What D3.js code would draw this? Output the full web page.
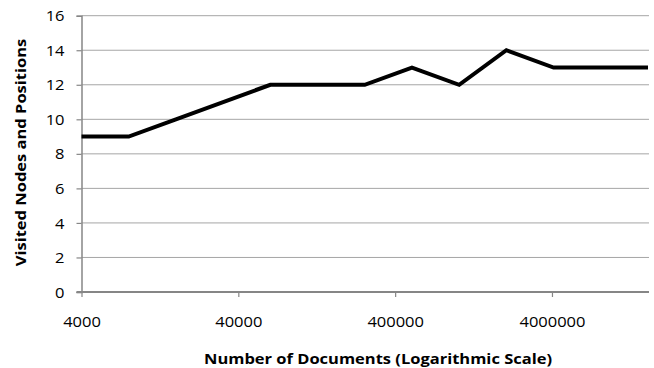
<!DOCTYPE html>
<html>
<head>
<meta charset="utf-8">
<script src="https://cdn.jsdelivr.net/npm/d3@7"></script>
<style>
  html, body { margin: 0; padding: 0; background: #fff; }
  svg { display: block; }
  text { font-family: "Open Sans", sans-serif; fill: #000; }
  .wide { transform-box: fill-box; transform-origin: center; transform: scaleX(1.1); }
  .wide-right { transform-box: fill-box; transform-origin: right center; transform: scaleX(1.1); }
</style>
</head>
<body>
<svg id="chart" width="654" height="368"></svg>
<script>
// Collection sizes (doubling from 4000) and visited node/position counts
const documents = [4000, 8000, 16000, 32000, 64000, 128000, 256000, 512000,
                   1024000, 2048000, 4096000, 8192000, 16384000];
const visited = [9, 9, 10, 11, 12, 12, 12, 13, 12, 14, 13, 13, 13];
const xTickValues = [4000, 40000, 400000, 4000000];
const yTickValues = [0, 2, 4, 6, 8, 10, 12, 14, 16];
const xTitle = "Number of Documents (Logarithmic Scale)";
const yTitle = "Visited Nodes and Positions";

const svg = d3.select("#chart");
const margin = { left: 81.5, right: 6, top: 15.7, bottom: 76 };
const W = 654, H = 368;
const FONT = "'Open Sans', sans-serif";

const x = d3.scaleLog()
  .domain([documents[0], documents[documents.length - 1]])
  .range([margin.left, 648]);
const y = d3.scaleLinear()
  .domain([0, 16])
  .range([H - margin.bottom, margin.top]);

// horizontal gridlines
svg.append("g")
  .selectAll("line")
  .data(yTickValues.filter(v => v > 0))
  .join("line")
  .attr("x1", margin.left).attr("x2", 649)
  .attr("y1", d => y(d)).attr("y2", d => y(d))
  .attr("stroke", "#a6a6a6").attr("stroke-width", 1);

// y axis
const yAxis = svg.append("g")
  .attr("transform", `translate(${margin.left},0)`)
  .call(d3.axisLeft(y).tickValues(yTickValues).tickSize(5).tickPadding(12).tickFormat(d3.format("d")));
yAxis.select(".domain").attr("stroke", "#868686").attr("stroke-width", 1.5);
yAxis.selectAll(".tick line").attr("stroke", "#868686").attr("stroke-width", 1.2);
yAxis.selectAll("text")
  .attr("class", "wide-right")
  .attr("font-size", 15).attr("font-family", FONT).attr("fill", "#000").attr("dy", "0.34em");

// x axis
const xAxis = svg.append("g")
  .attr("transform", `translate(0,${y(0)})`)
  .call(d3.axisBottom(x).tickValues(xTickValues).tickSize(5).tickPadding(19.5).tickFormat(d3.format("d")));
xAxis.select(".domain").remove();
xAxis.append("line")
  .attr("x1", margin.left - 5).attr("x2", 649)
  .attr("stroke", "#868686").attr("stroke-width", 2);
xAxis.selectAll(".tick line").attr("stroke", "#868686").attr("stroke-width", 1.2);
xAxis.selectAll("text")
  .attr("class", "wide")
  .attr("font-size", 15).attr("font-family", FONT).attr("fill", "#000");

// series line
svg.append("path")
  .datum(documents.map((d, i) => [d, visited[i]]))
  .attr("fill", "none")
  .attr("stroke", "#000")
  .attr("stroke-width", 4)
  .attr("stroke-linejoin", "miter")
  .attr("d", d3.line().x(d => x(d[0])).y(d => y(d[1])));

// axis titles
svg.append("text")
  .attr("class", "wide")
  .attr("x", 378).attr("y", 364)
  .attr("text-anchor", "middle")
  .attr("font-size", 15).attr("font-weight", "bold")
  .text(xTitle);

svg.append("text")
  .attr("transform", "translate(26,152.5) rotate(-90) scale(1.1,1)")
  .attr("text-anchor", "middle")
  .attr("font-size", 15).attr("font-weight", "bold")
  .text(yTitle);
</script>
</body>
</html>
